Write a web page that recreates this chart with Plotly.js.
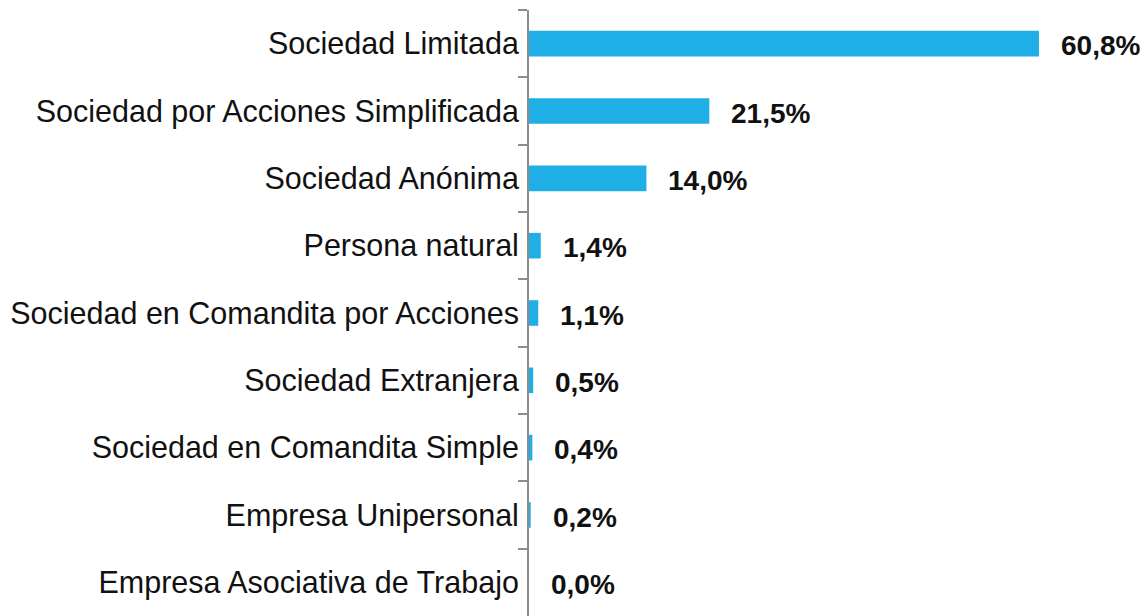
<!DOCTYPE html>
<html><head><meta charset="utf-8">
<script src="https://cdn.plot.ly/plotly-3.0.1.min.js"></script>
<style>body{margin:0;background:#fff}#c{width:1148px;height:616px}</style>
</head><body><div id="c"></div>
<script>
var categories = ["Sociedad Limitada","Sociedad por Acciones Simplificada","Sociedad Anónima","Persona natural","Sociedad en Comandita por Acciones","Sociedad Extranjera","Sociedad en Comandita Simple","Empresa Unipersonal","Empresa Asociativa de Trabajo"];
var values = [60.8,21.5,14.0,1.4,1.1,0.5,0.4,0.2,0.0];
var labels = values.map(function(v){return v.toFixed(1).replace('.',',')+'%';});

var trace = {type:'bar',orientation:'h',y:categories,x:values,marker:{color:'#1FAEE5'},hoverinfo:'none'};
var annotations = categories.map(function(c,i){
  return {x:values[i],y:c,xref:'x',yref:'y',text:'<b>'+labels[i]+'</b>',showarrow:false,xanchor:'left',xshift:20,yshift:-2,
    font:{family:'Liberation Sans, Arial, sans-serif',size:28,color:'#111'}};
});
var layout = {
  width:1148,height:616,margin:{l:529,r:0,t:10,b:0},
  paper_bgcolor:'#fff',plot_bgcolor:'#fff',showlegend:false,bargap:0.62,
  xaxis:{range:[0,73.8],visible:false,fixedrange:true},
  yaxis:{autorange:'reversed',showline:true,linecolor:'#8c8c8c',linewidth:2,ticks:'outside',tickson:'boundaries',ticklen:9,tickcolor:'#8c8c8c',tickwidth:2,
    tickfont:{family:'Liberation Sans, Arial, sans-serif',size:30.5,color:'#111'},showgrid:false,zeroline:false,ticklabelstandoff:2},
  annotations:annotations
};
Plotly.newPlot('c',[trace],layout,{staticPlot:true});
</script></body></html>
